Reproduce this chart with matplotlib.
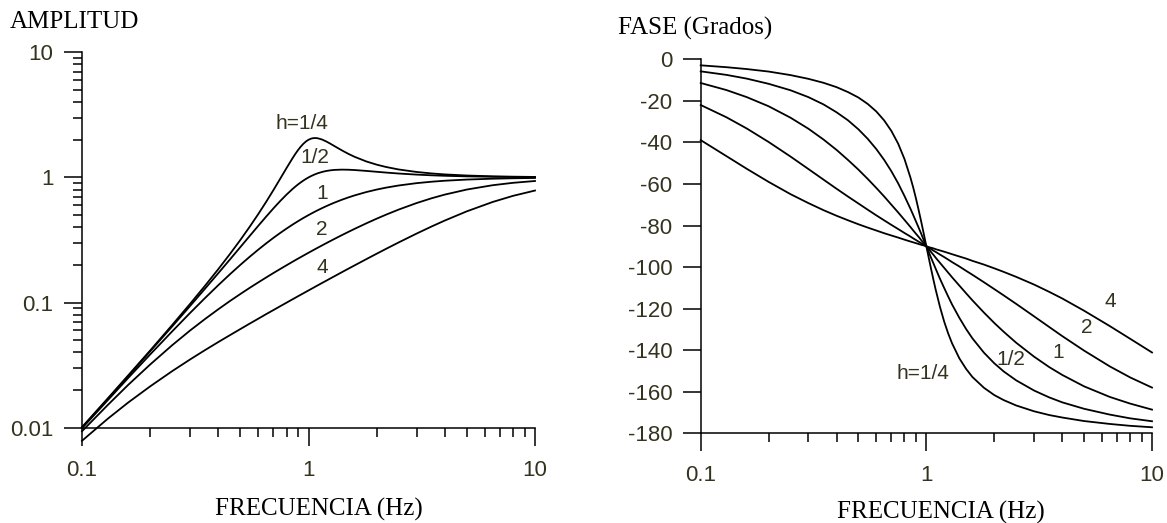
import matplotlib
matplotlib.use('Agg')
import matplotlib.pyplot as plt
from matplotlib.ticker import FixedLocator, FixedFormatter, LogLocator, NullFormatter

plt.rcParams['font.family'] = 'Liberation Sans'
plt.rcParams['axes.unicode_minus'] = False

freq = [0.1, 0.13, 0.16, 0.2, 0.25, 0.3, 0.35, 0.4, 0.45, 0.5, 0.55, 0.6, 0.65, 0.7, 0.75,
        0.8, 0.85, 0.875, 0.9, 0.925, 0.95, 0.975, 1.0, 1.025, 1.05, 1.075, 1.1, 1.15, 1.2,
        1.25, 1.3, 1.4, 1.5, 1.6, 1.8, 2.0, 2.2, 2.5, 3.0, 3.5, 4.0, 5.0, 6.5, 8.0, 10.0]

h_names = ['h=1/4', '1/2', '1', '2', '4']

# amplitude curves
amp_h14 = [0.0101, 0.01715, 0.0262, 0.0414, 0.0661, 0.0976, 0.1369, 0.1853, 0.2444, 0.3162,
           0.4035, 0.5093, 0.6376, 0.7922, 0.9762, 1.189, 1.423, 1.543, 1.658, 1.766, 1.861,
           1.940, 2.0, 2.040, 2.061, 2.065, 2.055, 2.006, 1.935, 1.858, 1.783, 1.650, 1.543,
           1.460, 1.342, 1.265, 1.212, 1.158, 1.106, 1.076, 1.057, 1.036, 1.021, 1.014, 1.009]
amp_h12 = [0.01005, 0.0170, 0.0259, 0.0408, 0.0644, 0.0939, 0.1297, 0.172, 0.2211, 0.2774,
           0.3406, 0.4104, 0.4859, 0.5658, 0.6478, 0.7295, 0.8080, 0.8452, 0.8806, 0.9139,
           0.9450, 0.9738, 1.0, 1.0238, 1.0450, 1.0639, 1.0805, 1.1073, 1.1267, 1.1399,
           1.1483, 1.1546, 1.1523, 1.1456, 1.1275, 1.1094, 1.0936, 1.0748, 1.0534, 1.0397,
           1.0307, 1.0198, 1.0118, 1.0078, 1.005]
amp_h1 = [0.0099, 0.0166, 0.0250, 0.0385, 0.0588, 0.0826, 0.1091, 0.1379, 0.1684, 0.2000,
          0.2323, 0.2647, 0.2970, 0.3289, 0.3600, 0.3902, 0.4195, 0.4336, 0.4475, 0.4611,
          0.4744, 0.4873, 0.5, 0.5123, 0.5244, 0.5361, 0.5475, 0.5694, 0.5902, 0.6098,
          0.6283, 0.6622, 0.6923, 0.7191, 0.7642, 0.8000, 0.8288, 0.8621, 0.9000, 0.9245,
          0.9412, 0.9615, 0.9769, 0.9846, 0.9901]
amp_h2 = [0.00937, 0.0152, 0.0220, 0.0320, 0.0456, 0.0598, 0.0741, 0.0885, 0.1029, 0.1170,
          0.1311, 0.1449, 0.1586, 0.1722, 0.1855, 0.1987, 0.2118, 0.2183, 0.2247, 0.2311,
          0.2374, 0.2437, 0.25, 0.2562, 0.2624, 0.2686, 0.2747, 0.2868, 0.2988, 0.3105,
          0.3222, 0.3450, 0.3671, 0.3886, 0.4297, 0.4682, 0.5041, 0.5534, 0.6240, 0.6821,
          0.7295, 0.8002, 0.8665, 0.9057, 0.9365]
amp_h4 = [0.00786, 0.0118, 0.0159, 0.0214, 0.0283, 0.0351, 0.0418, 0.0484, 0.0549, 0.0614,
          0.0679, 0.0743, 0.0808, 0.0871, 0.0935, 0.0998, 0.1062, 0.1093, 0.1125, 0.1156,
          0.1187, 0.1219, 0.125, 0.1281, 0.1312, 0.1344, 0.1375, 0.1437, 0.1498, 0.1560,
          0.1621, 0.1744, 0.1865, 0.1985, 0.2223, 0.2457, 0.2687, 0.3023, 0.3558, 0.4060,
          0.4527, 0.5359, 0.6365, 0.7127, 0.7857]

# phase curves (degrees)
ph_h14 = [-2.9, -3.8, -4.7, -5.9, -7.6, -9.4, -11.3, -13.4, -15.8, -18.4, -21.5, -25.1,
          -29.4, -34.5, -40.6, -48.0, -56.9, -61.8, -67.1, -72.7, -78.4, -84.2, -90.0,
          -95.6, -101.0, -106.1, -110.9, -119.3, -126.3, -132.0, -136.7, -143.9, -149.0,
          -152.9, -158.1, -161.6, -164.0, -166.6, -169.4, -171.2, -172.4, -174.1, -175.5,
          -176.4, -177.1]
ph_h12 = [-5.8, -7.5, -9.3, -11.8, -14.9, -18.2, -21.7, -25.5, -29.4, -33.7, -38.3, -43.2,
          -48.4, -53.9, -59.7, -65.8, -71.9, -75.0, -78.1, -81.1, -84.1, -87.1, -90.0,
          -92.8, -95.6, -98.2, -100.8, -105.7, -110.1, -114.2, -118.0, -124.4, -129.8,
          -134.3, -141.2, -146.3, -150.2, -154.5, -159.4, -162.7, -165.1, -168.2, -171.0,
          -172.8, -174.2]
ph_h1 = [-11.4, -14.8, -18.2, -22.6, -28.1, -33.4, -38.6, -43.6, -48.5, -53.1, -57.6, -61.9,
         -66.0, -70.0, -73.7, -77.3, -80.7, -82.4, -84.0, -85.5, -87.1, -88.5, -90.0,
         -91.4, -92.8, -94.1, -95.5, -98.0, -100.4, -102.7, -104.9, -108.9, -112.6,
         -116.0, -121.9, -126.9, -131.1, -136.4, -143.1, -148.1, -151.9, -157.4, -162.5,
         -165.7, -168.6]
ph_h2 = [-22.0, -27.9, -33.3, -39.8, -46.8, -52.8, -57.9, -62.3, -66.1, -69.4, -72.4, -75.1,
         -77.5, -79.7, -81.7, -83.6, -85.3, -86.2, -87.0, -87.8, -88.5, -89.3, -90.0,
         -90.7, -91.4, -92.1, -92.7, -94.0, -95.2, -96.4, -97.6, -99.7, -101.8, -103.7,
         -107.3, -110.6, -113.6, -117.7, -123.7, -128.8, -133.2, -140.2, -147.8, -153.1,
         -158.0]
ph_h4 = [-38.9, -46.6, -52.7, -59.0, -64.9, -69.2, -72.6, -75.3, -77.5, -79.4, -81.0, -82.4,
         -83.7, -84.8, -85.8, -86.8, -87.7, -88.1, -88.5, -88.9, -89.3, -89.6, -90.0,
         -90.4, -90.7, -91.0, -91.4, -92.0, -92.6, -93.2, -93.8, -94.9, -95.9, -97.0,
         -98.8, -100.6, -102.3, -104.7, -108.4, -111.9, -115.1, -121.0, -128.4, -134.5,
         -141.1]

amp_curves = [amp_h14, amp_h12, amp_h1, amp_h2, amp_h4]
ph_curves = [ph_h14, ph_h12, ph_h1, ph_h2, ph_h4]

# label anchor points (x, y in data units)
amp_lab_x = [0.935, 1.07, 1.15, 1.15, 1.15]
amp_lab_y = [2.72, 1.45, 0.75, 0.386, 0.191]
ph_lab_x = [0.963, 2.36, 3.85, 5.12, 6.54]
ph_lab_y = [-151.0, -144.7, -140.9, -129.3, -116.8]

txt_col = '#33331f'

fig = plt.figure(figsize=(11.67, 5.23), dpi=100)
W, H = 1167.0, 523.0
ax1 = fig.add_axes([82 / W, 1 - 427.7 / H, 453 / W, 375.4 / H])
ax2 = fig.add_axes([700.7 / W, 1 - 433.3 / H, 451.3 / W, 374.0 / H])


def style_axes(ax):
    ax.spines['top'].set_visible(False)
    ax.spines['right'].set_visible(False)
    for s in ['left', 'bottom']:
        ax.spines[s].set_linewidth(1.1)
        ax.spines[s].set_color('black')
    ax.tick_params(which='major', direction='out', length=13, width=1.1, color='black',
                   labelcolor=txt_col, labelsize=16)
    ax.tick_params(which='minor', direction='out', length=6.5, width=1.1, color='black')
    ax.tick_params(axis='x', which='major', pad=10)
    ax.tick_params(axis='y', which='major', pad=7.5)
    ax.set_xscale('log')
    ax.set_xlim(0.1, 10)
    ax.xaxis.set_major_locator(FixedLocator([0.1, 1, 10]))
    ax.xaxis.set_major_formatter(FixedFormatter(['0.1', '1', '10']))
    ax.xaxis.set_minor_locator(LogLocator(base=10, subs=range(2, 10)))
    ax.xaxis.set_minor_formatter(NullFormatter())


# amplitude panel
style_axes(ax1)
ax1.set_yscale('log')
ax1.set_ylim(0.01, 10)
ax1.yaxis.set_major_locator(FixedLocator([0.01, 0.1, 1, 10]))
ax1.yaxis.set_major_formatter(FixedFormatter(['0.01', '0.1', '1', '10']))
ax1.yaxis.set_minor_locator(LogLocator(base=10, subs=range(2, 10)))
ax1.yaxis.set_minor_formatter(NullFormatter())
for a in amp_curves:
    ax1.plot(freq, a, color='black', lw=1.3, clip_on=False)
for name, x, y in zip(h_names, amp_lab_x, amp_lab_y):
    ax1.text(x, y, name, ha='center', va='center', color=txt_col, fontsize=15)

# phase panel
style_axes(ax2)
ax2.set_ylim(-180, 0)
ax2.set_yticks(list(range(-180, 1, 20)))
for p in ph_curves:
    ax2.plot(freq, p, color='black', lw=1.3, clip_on=False)
for name, x, y in zip(h_names, ph_lab_x, ph_lab_y):
    ax2.text(x, y, name, ha='center', va='center', color=txt_col, fontsize=15)

# axis titles
serif = {'family': 'Liberation Serif', 'size': 18, 'color': 'black'}
fig.text(10 / W, 1 - 28 / H, 'AMPLITUD', ha='left', va='baseline', fontdict=serif)
fig.text(618 / W, 1 - 35 / H, 'FASE (Grados)', ha='left', va='baseline', fontdict=serif)
fig.text(215 / W, 1 - 516 / H, 'FRECUENCIA (Hz)', ha='left', va='baseline', fontdict=serif)
fig.text(837 / W, 1 - 519 / H, 'FRECUENCIA (Hz)', ha='left', va='baseline', fontdict=serif)

fig.savefig('out.png', dpi=100)
